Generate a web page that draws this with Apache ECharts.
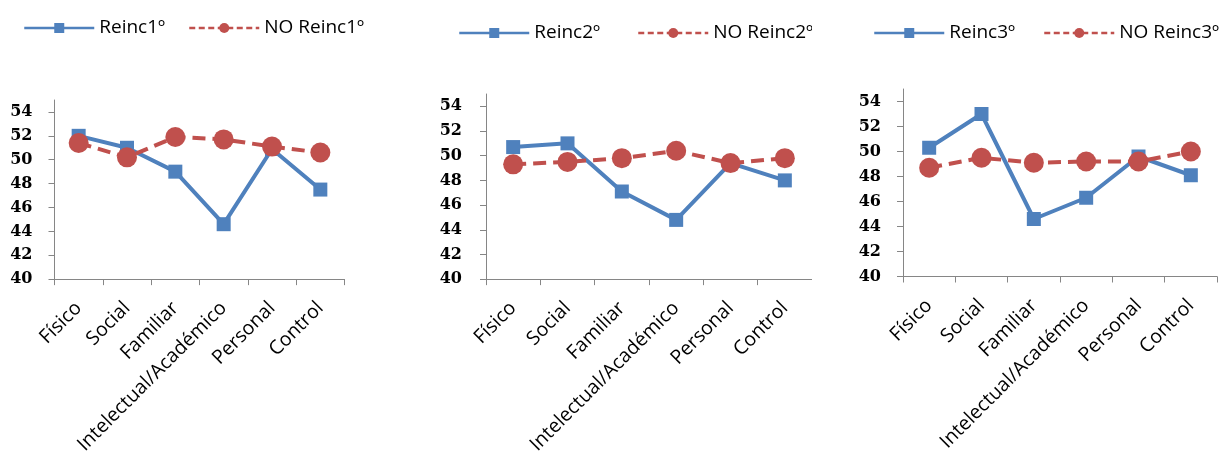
<!DOCTYPE html>
<html><head><meta charset="utf-8">
<script src="https://cdn.jsdelivr.net/npm/echarts@6/dist/echarts.min.js"></script>
<style>
html,body{margin:0;padding:0;background:#fff;width:1219px;height:457px;overflow:hidden;}
.p{position:absolute;top:0;height:457px;overflow:hidden;}
</style></head><body>
<div id="c1" class="p" style="left:0;width:420px"></div>
<div id="c2" class="p" style="left:420px;width:392px"></div>
<div id="c3" class="p" style="left:840px;width:379px"></div>
<script>
const categories = ['Físico', 'Social', 'Familiar', 'Intelectual/Académico', 'Personal', 'Control'];
const yTicks = [40, 42, 44, 46, 48, 50, 52, 54];
const reinc1 = [52.0, 51.0, 49.0, 44.6, 50.9, 47.5];
const noReinc1 = [51.4, 50.2, 51.9, 51.7, 51.1, 50.6];
const reinc2 = [50.7, 51.0, 47.1, 44.8, 49.4, 48.0];
const noReinc2 = [49.3, 49.5, 49.8, 50.4, 49.4, 49.8];
const reinc3 = [50.3, 53.0, 44.6, 46.3, 49.6, 48.1];
const noReinc3 = [48.7, 49.5, 49.1, 49.2, 49.2, 50.0];
const names1 = ['Reinc1º', 'NO Reinc1º'];
const names2 = ['Reinc2º', 'NO Reinc2º'];
const names3 = ['Reinc3º', 'NO Reinc3º'];

const BLUE = '#4F81BD', RED = '#C0504D', AXIS = '#868686';
const TXT = '"Open Sans", sans-serif';

function build(names, a, b, L) {
  const leg = (name, left, dash) => ({
    data: [name], left: left, top: L.legTop, itemWidth: 70, itemHeight: 12.5, itemGap: 0,
    textStyle: {fontFamily: TXT, fontSize: 19, color: '#000', lineHeight: 20},
    lineStyle: dash ? {width: 2.5, type: [6, 3.5]} : {width: 2.5},
    selectedMode: false
  });
  return {
    animation: false,
    backgroundColor: '#fff',
    legend: [leg(names[0], L.leg1, false), leg(names[1], L.leg2, true)],
    grid: {left: L.left, top: L.top, width: L.width, height: L.height, containLabel: false},
    xAxis: {
      type: 'category', data: categories, boundaryGap: true,
      axisLine: {lineStyle: {color: AXIS, width: 1}},
      axisTick: {show: true, alignWithLabel: false, length: 6, lineStyle: {color: AXIS}},
      axisLabel: {rotate: 45, margin: 26, interval: 0, fontFamily: TXT, fontSize: 19.5, color: '#000'}
    },
    yAxis: {
      type: 'value', min: 40, max: 55,
      axisLine: {show: true, lineStyle: {color: AXIS, width: 1}},
      axisTick: {show: true, length: 6, lineStyle: {color: AXIS}, customValues: yTicks},
      axisLabel: {customValues: yTicks, margin: L.ymargin, fontFamily: '"DejaVu Serif", serif', fontWeight: 'bold', fontSize: 16, color: '#000'},
      splitLine: {show: false}
    },
    series: [
      {name: names[0], type: 'line', data: a, symbol: 'rect', symbolSize: 14,
       lineStyle: {color: BLUE, width: 4}, itemStyle: {color: BLUE}, z: 2},
      {name: names[1], type: 'line', data: b, symbol: 'circle', symbolSize: 20,
       lineStyle: {color: RED, width: 4, type: [13, 7]}, itemStyle: {color: RED}, z: 3}
    ]
  };
}

const c1 = echarts.init(document.getElementById('c1'));
c1.setOption(build(names1, reinc1, noReinc1, {left: 54.5, top: 100, width: 290, height: 181, leg1: 18, leg2: 183, legTop: 13, ymargin: 22}));
const c2 = echarts.init(document.getElementById('c2'));
c2.setOption(build(names2, reinc2, noReinc2, {left: 66, top: 94, width: 350, height: 188.6, leg1: 33, leg2: 212, legTop: 18, ymargin: 24}));
const c3 = echarts.init(document.getElementById('c3'));
c3.setOption(build(names3, reinc3, noReinc3, {left: 63, top: 89, width: 314, height: 187.5, leg1: 28, leg2: 198, legTop: 18, ymargin: 22}));
</script>
</body></html>
